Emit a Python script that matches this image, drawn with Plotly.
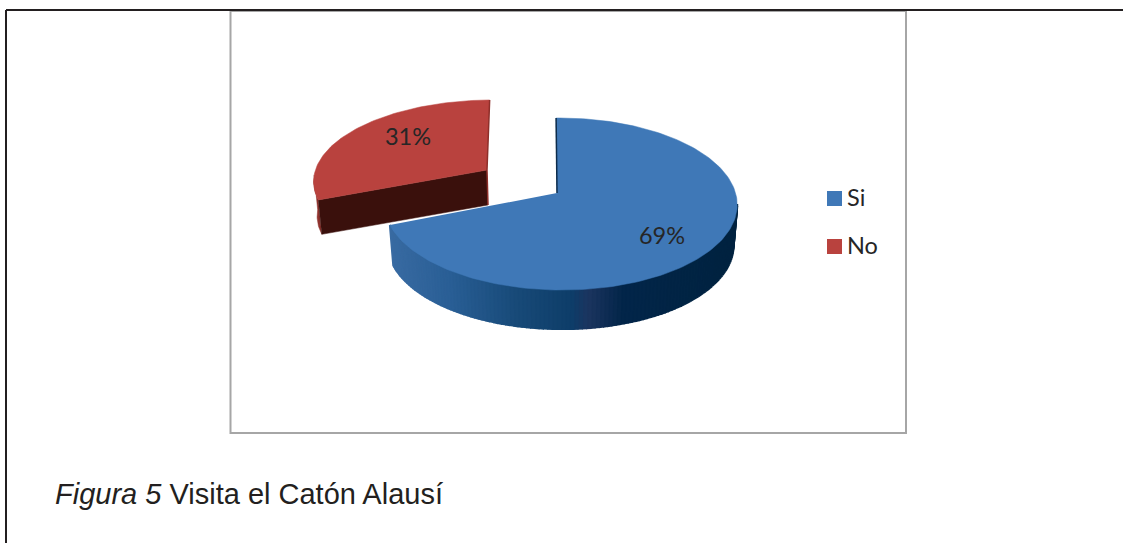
import math
import plotly.graph_objects as go

# valores
categorias = ['Si', 'No']
porcentajes = [69, 31]

COLOR_SI = '#3F78B7'
COLOR_NO = '#B9423E'
LABEL_FONT = 'Lato, Open Sans, sans-serif'

# perspectiva del pastel 3D
RX = 175
K_Y = 0.128
K_X = 0.02
BOTTOM_SCALE = 0.98

# colores de la pared exterior azul, de izquierda a derecha
WALL_STOPS = [(388, '#3A6CA3'), (450, '#2A5F96'), (520, '#184A78'), (575, '#0E3D69'),
              (590, '#1C3560'), (625, '#03264A'), (738, '#012340')]


def project(frac, radius, apex, ry, skew=0, depth=0):
    # frac: fraccion de vuelta en sentido horario desde las 12
    x = math.sin(2 * math.pi * frac) * radius
    y = math.cos(2 * math.pi * frac) * radius
    s = 1 / (1 + K_Y * y - K_X * x)
    scale = BOTTOM_SCALE if depth else 1
    return (apex[0] + (RX * x + skew * y) * s * scale,
            apex[1] + depth - ry * y * s * scale)


def arc(start, end, apex, ry, skew=0, depth=0, n=90):
    return [project(start + (end - start) * i / n, 1, apex, ry, skew, depth) for i in range(n + 1)]


def poly(points, color, width=0.5):
    return go.Scatter(
        x=[p[0] for p in points], y=[p[1] for p in points],
        mode='lines', fill='toself', fillcolor=color,
        line=dict(color=color, width=width), hoverinfo='skip', showlegend=False,
    )


def wall_color(x):
    for (x0, c0), (x1, c1) in zip(WALL_STOPS, WALL_STOPS[1:]):
        if x <= x1:
            t = max(0, (x - x0) / (x1 - x0))
            rgb = [int(c0[i:i + 2], 16) * (1 - t) + int(c1[i:i + 2], 16) * t for i in (1, 3, 5)]
            return 'rgb(%d,%d,%d)' % tuple(rgb)
    return WALL_STOPS[-1][1]


frac_si = porcentajes[0] / sum(porcentajes)
apex_si, ry_si, skew_si, depth_si = (557, 193), 84.6, -1, 41
apex_no, ry_no, skew_no, depth_no = (487, 170), 79, 3, 35

traces = []

# porcion No (separada)
top_no = arc(frac_si, 1, apex_no, ry_no, skew_no)
wall_no = arc(frac_si, 0.74, apex_no, ry_no, skew_no, n=20)
wall_no_low = arc(frac_si, 0.74, apex_no, ry_no, skew_no, depth_no, n=20)
traces.append(poly(wall_no + wall_no_low[::-1], '#8F322D'))
traces.append(poly([apex_no, top_no[0], project(frac_si, 1, apex_no, ry_no, skew_no, depth_no),
                    (apex_no[0] + 1, apex_no[1] + depth_no)], '#3A100C'))
traces.append(poly([apex_no] + top_no, COLOR_NO))
traces.append(go.Scatter(x=[apex_no[0] + 1, apex_no[0], top_no[-1][0]],
                         y=[apex_no[1] + depth_no, apex_no[1], top_no[-1][1]],
                         mode='lines', line=dict(color='#8E2F2A', width=1.5),
                         hoverinfo='skip', showlegend=False))

# porcion Si: pared con degradado y cara superior
upper = arc(0.27, frac_si, apex_si, ry_si, skew_si, n=120)
lower = arc(0.27, frac_si, apex_si, ry_si, skew_si, depth_si, n=120)
for i in range(len(upper) - 1):
    quad = [upper[i], upper[i + 1], lower[i + 1], lower[i]]
    traces.append(poly(quad, wall_color(upper[i][0]), width=2))
top_si = arc(0, frac_si, apex_si, ry_si, skew_si, n=180)
traces.append(poly([apex_si] + top_si, COLOR_SI))
traces.append(go.Scatter(x=[apex_si[0], top_si[0][0]], y=[apex_si[1], top_si[0][1]],
                         mode='lines', line=dict(color='#0D2C4B', width=1.5),
                         hoverinfo='skip', showlegend=False))

# etiquetas de porcentaje
traces.append(go.Scatter(
    x=[662, 408], y=[238, 139], mode='text',
    text=['%d%%' % v for v in porcentajes],
    textposition='middle center',
    textfont=dict(family=LABEL_FONT, size=23.5, color='#262626'),
    hoverinfo='skip', showlegend=False,
))

# leyenda
traces.append(go.Scatter(
    x=[834.5, 834.5], y=[198.5, 246.5], mode='markers',
    marker=dict(symbol='square', size=15, color=[COLOR_SI, COLOR_NO], line=dict(width=0)),
    hoverinfo='skip', showlegend=False,
))
traces.append(go.Scatter(
    x=[847, 847], y=[200, 248], mode='text',
    text=categorias,
    textposition='middle right',
    textfont=dict(family=LABEL_FONT, size=23.5, color='#262626'),
    hoverinfo='skip', showlegend=False,
))

fig = go.Figure(traces)
fig.update_layout(
    width=1123, height=543,
    margin=dict(t=0, b=0, l=0, r=0),
    paper_bgcolor='#fff', plot_bgcolor='#fff',
    showlegend=False,
    shapes=[
        dict(type='rect', x0=230.5, y0=11, x1=906, y1=433, line=dict(color='#A6A6A6', width=2)),
        dict(type='line', x0=6, y0=10, x1=1123, y1=10, line=dict(color='#231F20', width=2)),
        dict(type='line', x0=6, y0=10, x1=6, y1=543, line=dict(color='#231F20', width=2)),
    ],
    annotations=[dict(
        x=53, y=494, xanchor='left', yanchor='middle', showarrow=False,
        text='<i>Figura 5</i> Visita el Catón Alausí',
        font=dict(family='Liberation Sans, Arial, sans-serif', size=29, color='#231F20'),
    )],
)
fig.update_xaxes(range=[0, 1123], visible=False, fixedrange=True)
fig.update_yaxes(range=[543, 0], visible=False, fixedrange=True)

# sin margen del body para que la figura ocupe toda la ventana
fig.write_html('out.html', config=dict(displayModeBar=False),
               post_script="document.body.style.margin='0';document.body.style.overflow='hidden';")
